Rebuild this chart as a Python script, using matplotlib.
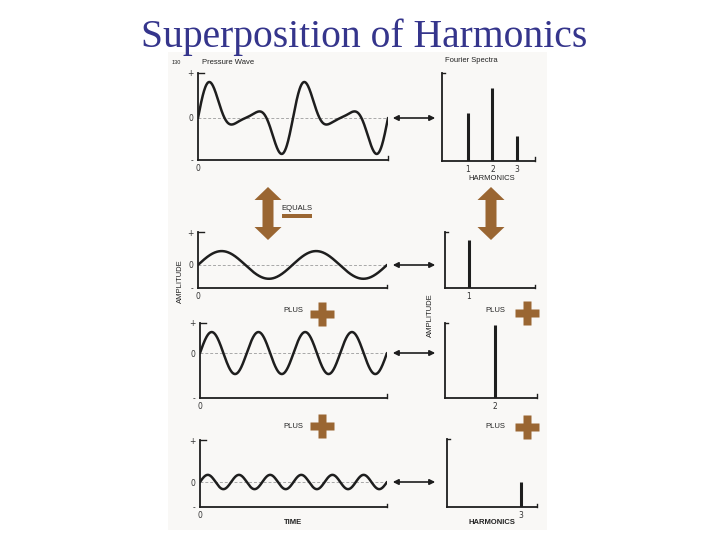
import numpy as np
import matplotlib
matplotlib.use("Agg")
import matplotlib.pyplot as plt

# harmonic content of the pressure wave
harmonics = [1, 2, 3]
amplitudes = [0.66, 1.0, 0.34]
n_cycles = 2  # cycles of the fundamental shown in each time panel

W, H = 720, 540
INK = "#1e1e1e"
BROWN = "#9a6632"
PAGE = "#f9f8f6"
SANS = ["Liberation Sans", "DejaVu Sans"]

fig = plt.figure(figsize=(W / 100, H / 100), dpi=100)


def px_axes(x0, y0, x1, y1, z=1):
    # axes from pixel box (top-left origin)
    return fig.add_axes([x0 / W, 1 - y1 / H, (x1 - x0) / W, (y1 - y0) / H], zorder=z)


# background page + decorations layer
bg = px_axes(0, 0, W, H, z=0)
bg.set_xlim(0, W)
bg.set_ylim(H, 0)
bg.axis("off")
bg.add_patch(plt.Rectangle((168, 52), 379, 478, color=PAGE, lw=0))

fig.text(364 / W, 1 - 47 / H, "Superposition of Harmonics", ha="center", va="baseline",
         fontsize=28.5, family="Liberation Serif", color="#35358c")


def style_panel(ax):
    ax.set_facecolor("none")
    for s in ["top", "right"]:
        ax.spines[s].set_visible(False)
    for s in ["left", "bottom"]:
        ax.spines[s].set_color(INK)
        ax.spines[s].set_linewidth(1.3)
    ax.tick_params(length=0, labelsize=5.5, pad=3, colors="#333333")
    # little end ticks of the hand-drawn frame
    ax.plot([0, 0.03], [1, 1], transform=ax.transAxes, color=INK, lw=1.0, clip_on=False)
    ax.plot([1, 1], [0, 0.05], transform=ax.transAxes, color=INK, lw=1.0, clip_on=False)


# ---------------- time domain panels ----------------
t = np.linspace(0, 2 * np.pi * n_cycles, 600)
components = [a * np.sin(h * t) for h, a in zip(harmonics, amplitudes)]
pressure = np.sum(components, axis=0)

time_boxes = [(198, 73, 388, 160), (198, 232, 387, 288), (200, 323, 387, 398), (200, 440, 387, 507)]
time_ylims = [(-2.0, 2.14), (-1.10, 1.57), (-2.14, 1.43), (-1.19, 2.0)]
time_series = [pressure] + components

for box, yl, y in zip(time_boxes, time_ylims, time_series):
    ax = px_axes(*box, z=2)
    style_panel(ax)
    ax.axhline(0, color="#a8a8a8", lw=0.7, ls=(0, (3, 2)))
    ax.plot(t, y, color=INK, lw=1.8, solid_capstyle="round")
    ax.set_xlim(0, t[-1])
    ax.set_ylim(*yl)
    ax.set_yticks([yl[0], 0, yl[1]])
    ax.set_yticklabels(["-", "0", "+"])
    ax.set_xticks([0])
    ax.set_xticklabels(["0"])

# ---------------- spectrum panels ----------------
spec_boxes = [(442, 73, 535, 161), (445, 232, 535, 288), (445, 323, 537, 398), (447, 439, 537, 507)]
spec_xlims = [(-0.06, 3.74), (0.08, 3.54), (0.08, 3.62), (0.15, 3.62)]
spec_ylims = [(0, 1.205), (0, 0.767), (0, 1.03), (0, 0.93)]
spec_sets = [list(range(3))] + [[i] for i in range(3)]

for box, xl, yl, idx in zip(spec_boxes, spec_xlims, spec_ylims, spec_sets):
    ax = px_axes(*box, z=2)
    style_panel(ax)
    hs = [harmonics[i] for i in idx]
    amps = [amplitudes[i] for i in idx]
    ax.vlines(hs, 0, amps, color=INK, lw=2.2)
    ax.set_xlim(*xl)
    ax.set_ylim(*yl)
    ax.set_yticks([])
    ax.set_xticks(hs)
    ax.set_xticklabels([str(h) for h in hs])


# ---------------- labels ----------------
def txt(x, y, s, size=5.5, **kw):
    bg.text(x, y, s, fontsize=size, family=SANS, color="#222222", va="center", **kw)


txt(172, 62, "130", size=4)
txt(202, 62, "Pressure Wave", size=5.5)
txt(445, 61, "Fourier Spectra", size=5.5)
txt(492, 178, "HARMONICS", size=5.5, ha="center")
txt(492, 523, "HARMONICS", size=5.5, ha="center", fontweight="bold")
txt(293, 522, "TIME", size=5.5, ha="center", fontweight="bold")
txt(281, 209, "EQUALS", size=5.5)
for x, y in [(293, 310), (495, 310), (293, 426), (495, 426)]:
    txt(x, y, "PLUS", size=5.5, ha="center")
txt(180, 281, "AMPLITUDE", size=5.5, ha="center", rotation=90)
txt(430, 315, "AMPLITUDE", size=5.5, ha="center", rotation=90)

# ---------------- arrows and symbols ----------------
fg = px_axes(0, 0, W, H, z=5)
fg.set_xlim(0, W)
fg.set_ylim(H, 0)
fg.axis("off")
fg.patch.set_alpha(0)

for y in [118, 265, 353, 482]:
    fg.annotate("", xy=(438, y), xytext=(390, y),
                arrowprops=dict(arrowstyle="<|-|>", color=INK, lw=1.2, mutation_scale=8))


def double_arrow(cx, top, bot, shaft=5.5, head=13.5, hl=13):
    pts = [(cx, top), (cx + head, top + hl), (cx + shaft, top + hl), (cx + shaft, bot - hl),
           (cx + head, bot - hl), (cx, bot), (cx - head, bot - hl), (cx - shaft, bot - hl),
           (cx - shaft, top + hl), (cx - head, top + hl)]
    fg.add_patch(plt.Polygon(pts, closed=True, color=BROWN, lw=0))


double_arrow(268, 187, 240)
double_arrow(491, 187, 240)

fg.add_patch(plt.Rectangle((282, 214), 30, 4, color=BROWN, lw=0))
for x, y in [(322, 314), (527, 313), (322, 426), (527, 427)]:
    fg.plot(x, y, marker="P", ms=17, color=BROWN, mec="none")

fig.savefig("out.png", dpi=100)
